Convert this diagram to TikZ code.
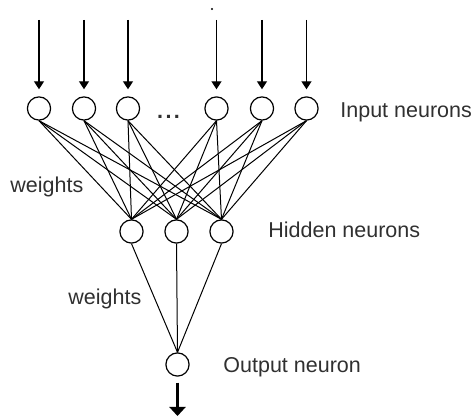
\documentclass[tikz,border=0pt]{standalone}
\usepackage{fontspec}
\setmainfont{Liberation Sans}
\usepackage{tikz}
\usetikzlibrary{arrows.meta}
\definecolor{txt}{HTML}{303030}
\tikzset{
  neu/.style={draw,circle,line width=0.6pt,minimum size=11.6pt,inner sep=0pt},
  ln/.style={line width=0.5pt},
  ar/.style={-{Triangle[width=5pt,length=4pt]},line width=0.7pt,shorten >=3.5pt},
  outar/.style={-{Triangle[width=8pt,length=4.5pt]},line width=1.3pt,shorten <=3pt},
  lbl/.style={font=\fontsize{10.75}{12}\selectfont,text=txt,inner sep=0pt,anchor=base west}
}
\begin{document}
\begin{tikzpicture}[x=0.5pt,y=-0.5pt]
\useasboundingbox (0,0) rectangle (473,416);
% input layer
\foreach \x [count=\k] in {39,84,128,216.5,262,306.5} {
  \node[neu] (i\k) at (\x,108.5) {};
  \coordinate (s\k) at (\x,20);
  \draw[ar] (s\k) -- (i\k);
}
\node[lbl,anchor=base,font=\fontsize{10.75}{12}\selectfont\bfseries] (dots) at (168.5,119) {.\kern1.2pt.\kern1.2pt.};
\fill (212,9) circle (1.2);
% hidden layer
\foreach \x [count=\k] in {131.5,176.5,221.5}
  \node[neu] (h\k) at (\x,231.5) {};
% output
\node[neu] (o) at (177.5,364.5) {};
\coordinate (out) at (177.5,416);
\draw[outar] (o) -- (out);
% weights
\foreach \a in {1,...,6}
  \foreach \b in {1,2,3}
    \draw[ln] (i\a.south) -- (h\b.north);
\foreach \b in {1,2,3}
  \draw[ln] (h\b.south) -- (o.north);
% labels
\node[lbl] (inlbl) at (340,118) {Input neurons};
\node[lbl] (hidlbl) at (268,237.5) {Hidden neurons};
\node[lbl] (outlbl) at (223,373) {Output neuron};
\node[lbl] (w1) at (10,193) {weights};
\node[lbl] (w2) at (68,305) {weights};
\end{tikzpicture}
\end{document}
